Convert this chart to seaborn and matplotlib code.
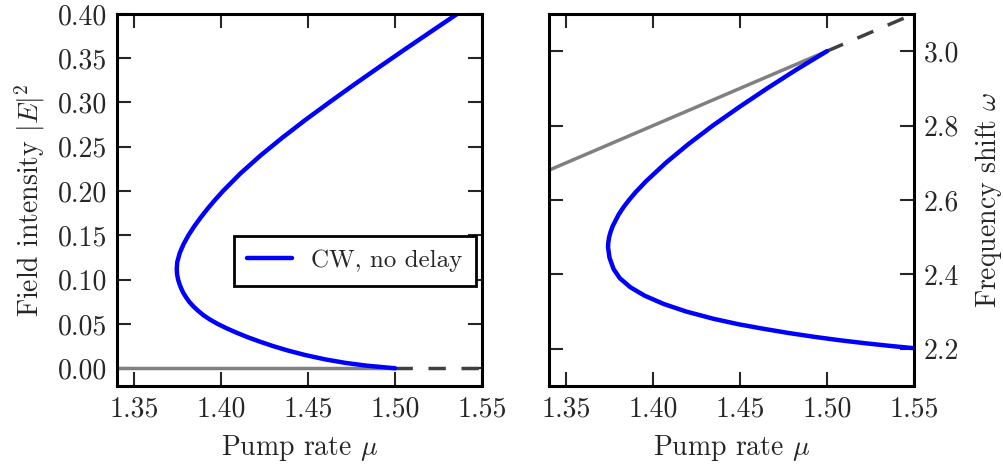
import matplotlib
matplotlib.use("Agg")
import matplotlib.pyplot as plt
import seaborn as sns

# Trivial (laser-off) solution
mu_off_stable = [1.34, 1.50]
mu_off_unstable = [1.50, 1.55]
intensity_off = [0.0, 0.0]
omega_off_stable = [2.68, 3.00]
omega_off_unstable = [3.00, 3.10]

# CW branch without delay: pump rate vs. field intensity
intensity = [0.000, 0.003, 0.006, 0.010, 0.015, 0.020, 0.025, 0.030, 0.035,
             0.040, 0.045, 0.050, 0.055, 0.060, 0.065, 0.070, 0.075, 0.080,
             0.085, 0.090, 0.095, 0.100, 0.106, 0.112, 0.120, 0.130, 0.140,
             0.150, 0.160, 0.170, 0.180, 0.190, 0.200, 0.220, 0.240, 0.260,
             0.280, 0.300, 0.320, 0.340, 0.360, 0.380, 0.400, 0.420]
mu_intensity = [1.5000, 1.4834, 1.4717, 1.4599, 1.4482, 1.4384, 1.4299, 1.4223,
                1.4153, 1.4090, 1.4032, 1.3980, 1.3935, 1.3897, 1.3866, 1.3839,
                1.3816, 1.3798, 1.3782, 1.3770, 1.3760, 1.3752, 1.3746, 1.3744,
                1.3747, 1.3761, 1.3783, 1.3811, 1.3844, 1.3881, 1.3921, 1.3964,
                1.4010, 1.4111, 1.4225, 1.4350, 1.4482, 1.4621, 1.4763, 1.4909,
                1.5057, 1.5207, 1.5358, 1.5510]

# CW branch without delay: pump rate vs. frequency shift
freq = [3.0000, 2.9500, 2.9000, 2.8500, 2.8000, 2.7500, 2.7000, 2.6500,
        2.6200, 2.6000, 2.5800, 2.5600, 2.5300, 2.5150, 2.5000, 2.4850,
        2.4721, 2.4450, 2.4140, 2.3895, 2.3651, 2.3428, 2.3204, 2.3000,
        2.2803, 2.2660, 2.2535, 2.2423, 2.2322, 2.2231, 2.2152, 2.2081,
        2.2015]
mu_freq = [1.5000, 1.4823, 1.4656, 1.4496, 1.4343, 1.4202, 1.4073, 1.3958,
           1.3897, 1.3861, 1.3828, 1.3800, 1.3767, 1.3755, 1.3746, 1.3741,
           1.3740, 1.3748, 1.3772, 1.3808, 1.3869, 1.3950, 1.4060, 1.4190,
           1.4349, 1.4490, 1.4637, 1.4780, 1.4925, 1.5070, 1.5213, 1.5355,
           1.5500]

mu_ticks = [1.35, 1.40, 1.45, 1.50, 1.55]
intensity_ticks = [0.00, 0.05, 0.10, 0.15, 0.20, 0.25, 0.30, 0.35, 0.40]
freq_ticks = [2.2, 2.4, 2.6, 2.8, 3.0]

sns.set_style("ticks")
plt.rcParams.update({
    "font.family": "serif",
    "font.serif": ["cmr10"],
    "mathtext.fontset": "cm",
    "axes.formatter.use_mathtext": True,
    "axes.linewidth": 2.2,
    "axes.edgecolor": "black",
    "font.size": 20,
})

BLUE = "#0000ff"
GRAY = "#808080"
DARK = "#404040"

fig = plt.figure(figsize=(10.04, 4.71), dpi=100)
ax1 = fig.add_axes([0.1165, 0.1805, 0.3635, 0.790])
ax2 = fig.add_axes([0.5468, 0.1805, 0.3635, 0.790])


def off_branch(ax, x_stable, y_stable, x_unstable, y_unstable):
    sns.lineplot(x=x_stable, y=y_stable, ax=ax, color=GRAY, lw=2.5,
                 sort=False, estimator=None)
    sns.lineplot(x=x_unstable, y=y_unstable, ax=ax, color=DARK, lw=2.5,
                 sort=False, estimator=None, linestyle=(0, (5, 4.5)))


off_branch(ax1, mu_off_stable, intensity_off, mu_off_unstable, intensity_off)
sns.lineplot(x=mu_intensity, y=intensity, ax=ax1, color=BLUE, lw=3.2,
             sort=False, estimator=None, label="CW, no delay",
             solid_joinstyle="round")

off_branch(ax2, mu_off_stable, omega_off_stable, mu_off_unstable, omega_off_unstable)
sns.lineplot(x=mu_freq, y=freq, ax=ax2, color=BLUE, lw=3.2,
             sort=False, estimator=None, solid_joinstyle="round")

for ax in (ax1, ax2):
    ax.set_xlim(1.34, 1.55)
    ax.set_xticks(mu_ticks)
    ax.set_xticklabels([f"{v:.2f}" for v in mu_ticks])
    ax.tick_params(axis="both", which="major", direction="in", length=10,
                   width=1.5, labelsize=20, pad=7,
                   top=True, bottom=True, left=True, right=True)
    ax.set_xlabel(r"Pump rate $\mu$", fontsize=20, labelpad=8)
    for s in ax.spines.values():
        s.set_linewidth(2.2)

ax1.set_ylim(-0.02, 0.40)
ax1.set_yticks(intensity_ticks)
ax1.set_yticklabels([f"{v:.2f}" for v in intensity_ticks])
ax1.set_ylabel(r"Field intensity $|E|^2$", fontsize=20, labelpad=8)

ax2.set_ylim(2.1, 3.1)
ax2.set_yticks(freq_ticks)
ax2.set_yticklabels([f"{v:.1f}" for v in freq_ticks])
ax2.tick_params(axis="y", labelleft=False, labelright=True)
ax2.yaxis.set_label_position("right")
ax2.set_ylabel(r"Frequency shift $\omega$", fontsize=20, labelpad=10)

leg = ax1.legend(loc="center", bbox_to_anchor=(0.652, 0.336), fontsize=18,
                 frameon=True, fancybox=False, framealpha=1, edgecolor="black",
                 handlelength=1.8, handletextpad=0.75, borderpad=0.55,
                 borderaxespad=0)
leg.get_frame().set_linewidth(2.0)
for h in leg.get_lines():
    h.set_linewidth(3.2)

fig.savefig("out.png", dpi=100)
